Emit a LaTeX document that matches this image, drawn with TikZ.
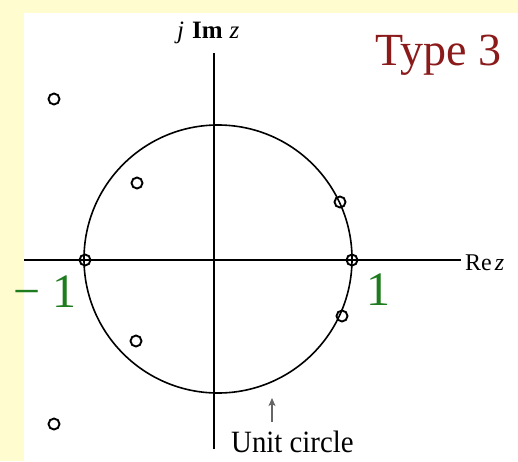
\documentclass[tikz,border=0pt]{standalone}
\usepackage{fontspec}
\usetikzlibrary{arrows.meta}
\setmainfont{Liberation Serif}
\definecolor{bgyellow}{HTML}{FFFDD0}
\definecolor{typered}{HTML}{8B1A1A}
\definecolor{numgreen}{HTML}{1E7B1E}
\begin{document}
\begin{tikzpicture}[x=1pt,y=-1pt,
  zero/.style={circle,draw,line width=1.9pt,minimum size=11pt,inner sep=0pt},
  axis/.style={line width=2.4pt},
  biglabel/.style={font=\fontsize{48}{50}\selectfont,inner sep=0pt}]
\useasboundingbox (0,0) rectangle (518,461);
\fill[bgyellow] (0,0) rectangle (518,461);
\fill[white] (24,13) rectangle (518,461);
% axes
\coordinate (xl) at (24,260);
\coordinate (xr) at (461,260);
\coordinate (yt) at (214,53);
\coordinate (yb) at (214,449);
\draw[axis] (xl) -- (xr);
\draw[line width=2pt] (yb) -- (yt);
% unit circle
\node[circle,draw,line width=1.6pt,minimum size=268pt,inner sep=0pt] (uc) at (218,259) {};
% zeros
\node[zero] (z1) at (54,99) {};
\node[zero] (z2) at (137,183) {};
\node[zero] (z3) at (340,202) {};
\node[zero] (z4) at (352,260) {};
\node[zero] (z5) at (85,260) {};
\node[zero] (z6) at (342,316) {};
\node[zero] (z7) at (136,341) {};
\node[zero] (z8) at (54,424) {};
% labels
\node[font=\fontsize{25}{27}\selectfont,inner sep=0pt,anchor=base west] (im) at (177,38) {\textit{j}\hspace{8pt}\textbf{Im}\hspace{7pt}\textit{z}};
\node[font=\fontsize{24}{26}\selectfont,inner sep=0pt,anchor=base west] (re) at (465,270) {Re\hspace{3pt}\textit{z}};
\node[font=\fontsize{46}{48}\selectfont,text=typered,inner sep=0pt,anchor=base west] (type) at (375,65) {Type 3};
\node[biglabel,text=numgreen,anchor=base west] (one) at (366,305) {1};
\node[biglabel,text=numgreen,anchor=base west] (mone) at (13,307) {− 1};
\node[font=\fontsize{31}{33}\selectfont,xscale=0.93,transform shape,inner sep=0pt,anchor=base west] (ucl) at (231,452) {Unit circle};
\coordinate (at) at (272,422);
\coordinate (ah) at (272,398);
\draw[line width=1.4pt,draw=black!60,-{Stealth[length=8pt,width=7pt,inset=2pt]}] (at) -- (ah);
\end{tikzpicture}
\end{document}
